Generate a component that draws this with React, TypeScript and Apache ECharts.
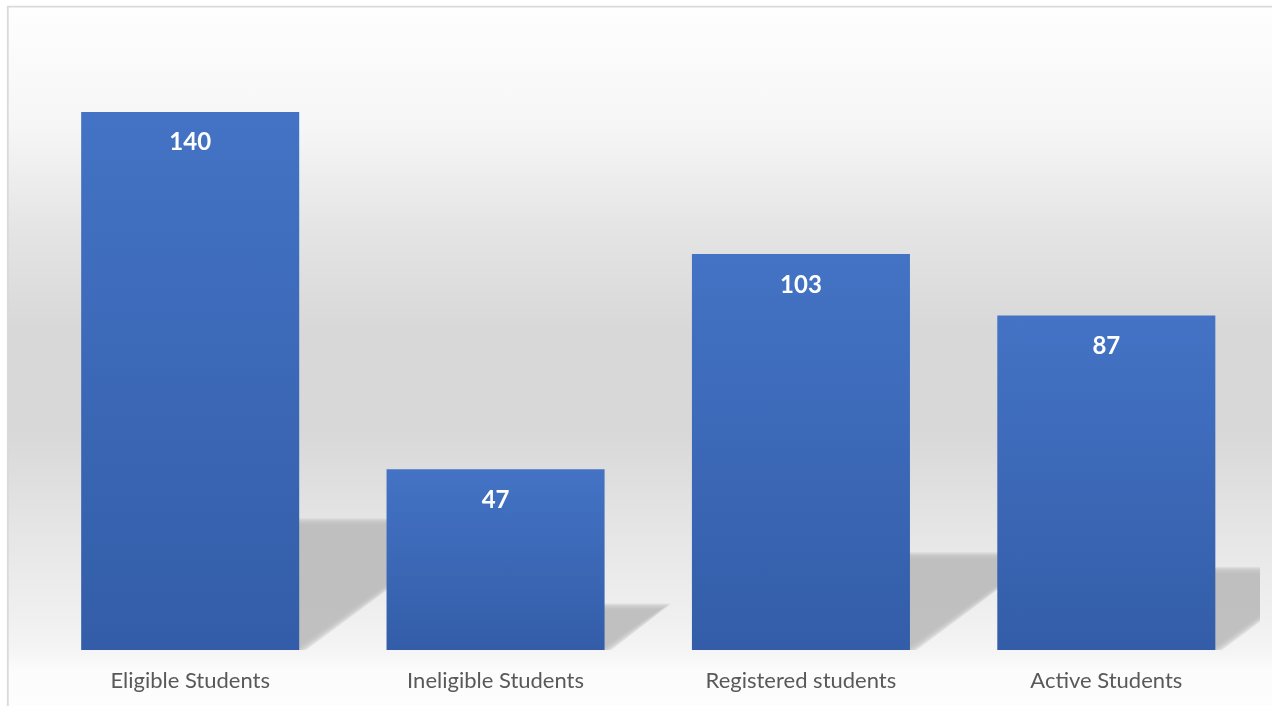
import React, { useEffect, useRef } from "react";
import * as echarts from "echarts";

const categories = ["Eligible Students", "Ineligible Students", "Registered students", "Active Students"];
const values = [140, 47, 103, 87];
const yMax = 160;

const BAR_RATIO = 0.714;

export default function App() {
  const ref = useRef<HTMLDivElement>(null);
  useEffect(() => {
    if (!ref.current) return;
    const chart = echarts.init(ref.current, null, { renderer: "svg" });
    const shadowData = values.map((v, i) => [i, v]);
    chart.setOption({
      animation: false,
      grid: { left: 37.5, right: 13, top: 35, bottom: 56 },
      graphic: [
        {
          type: "rect",
          z: -10,
          silent: true,
          shape: { x: 8, y: 7, width: 1272, height: 705 },
          style: {
            fill: new echarts.graphic.LinearGradient(0, 0, 0, 1, [
              { offset: 0, color: "#fefefe" },
              { offset: 0.17, color: "#f6f6f6" },
              { offset: 0.32, color: "#e4e4e4" },
              { offset: 0.46, color: "#d8d8d8" },
              { offset: 0.6, color: "#d8d8d8" },
              { offset: 0.75, color: "#e6e6e6" },
              { offset: 0.87, color: "#f0f0f0" },
              { offset: 0.915, color: "#f5f5f5" },
              { offset: 0.94, color: "#fcfcfc" },
              { offset: 1, color: "#fdfdfd" },
            ]),
          },
        },
        {
          type: "rect",
          z: 100,
          silent: true,
          shape: { x: 7.8, y: 6.7, width: 1300, height: 800 },
          style: { fill: "none", stroke: "#d9d9d9", lineWidth: 1.8 },
        },
      ],
      xAxis: {
        type: "category",
        data: categories,
        axisLine: { show: false },
        axisTick: { show: false },
        axisLabel: { color: "#595959", fontFamily: "Lato", fontSize: 22, margin: 18 },
      },
      yAxis: { type: "value", min: 0, max: yMax, show: false, splitLine: { show: false } },
      series: [
        {
          type: "custom",
          z: 1,
          clip: true,
          silent: true,
          data: shadowData,
          encode: { x: 0, y: 1 },
          renderItem: (params: any, api: any) => {
            const idx = api.value(0);
            const v = api.value(1);
            const top = api.coord([idx, v]);
            const base = api.coord([idx, 0]);
            const band = api.size([1, 0])[0];
            const half = (band * BAR_RATIO) / 2;
            const h = base[1] - top[1];
            const xl = top[0] - half;
            const xr = top[0] + half;
            const dx = h * 0.33;
            const dy = h * 0.238;
            const N = 9;
            const children: any[] = [];
            for (let i = 0; i < N; i++) {
              const t = i / (N - 1) - 0.5;
              const eTop = t * 7;
              const eDiag = t * 14;
              children.push({
                type: "polygon",
                shape: {
                  points: [
                    [xl, base[1]],
                    [xr + eDiag, base[1]],
                    [xr + dx + eDiag, base[1] - dy - eTop],
                    [xl + dx, base[1] - dy - eTop],
                  ],
                },
                style: { fill: "#bcbcbc", opacity: 0.26 },
              });
            }
            return { type: "group", children };
          },
        },
        {
          type: "bar",
          z: 3,
          data: values,
          barWidth: BAR_RATIO * 100 + "%",
          itemStyle: {
            color: new echarts.graphic.LinearGradient(0, 0, 0, 1, [
              { offset: 0, color: "#4473c5" },
              { offset: 1, color: "#335da8" },
            ]),
          },
          label: {
            show: true,
            position: "insideTop",
            distance: 17,
            color: "#ffffff",
            fontFamily: "Lato",
            fontWeight: "bold",
            fontSize: 24,
          },
        },
      ],
    });
    return () => chart.dispose();
  }, []);
  return <div ref={ref} style={{ position: "fixed", left: 0, top: 0, width: 1272, height: 706 }} />;
}
